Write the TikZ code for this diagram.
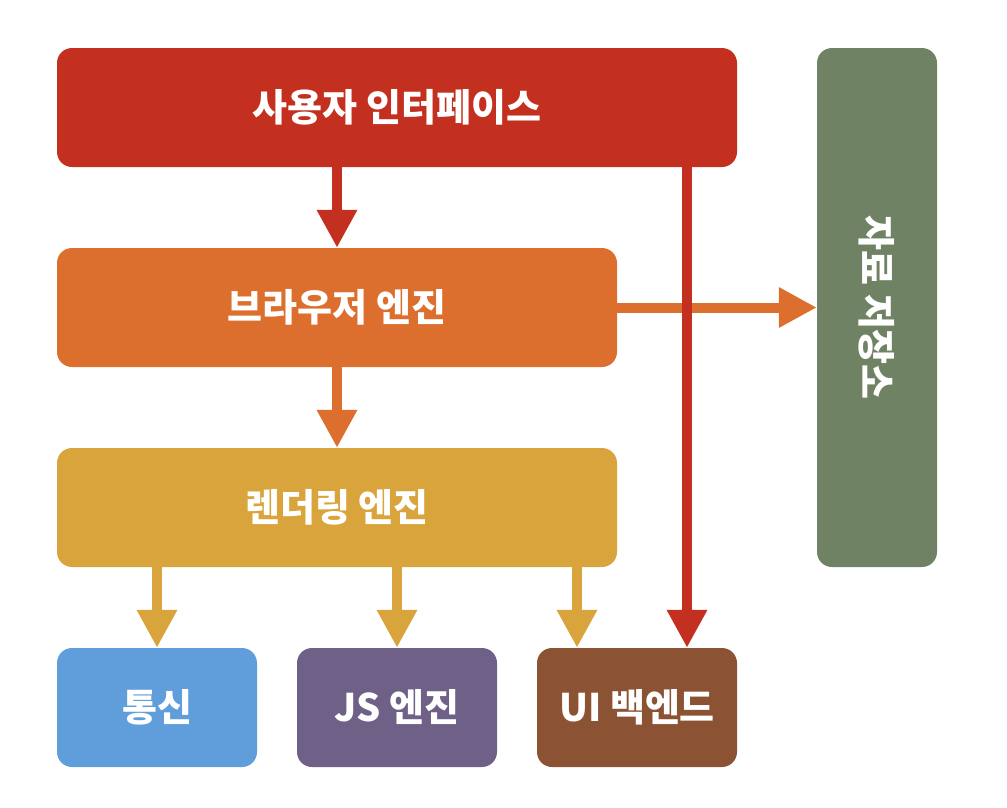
\documentclass[tikz,border=0pt]{standalone}
\usepackage{fontspec}
\newfontfamily\kr{Noto Sans CJK KR}
\usetikzlibrary{arrows.meta}
\definecolor{cred}{RGB}{196,48,31}
\definecolor{corange}{RGB}{220,111,46}
\definecolor{cyellow}{RGB}{217,164,59}
\definecolor{cgreen}{RGB}{112,130,100}
\definecolor{cblue}{RGB}{95,158,219}
\definecolor{cpurple}{RGB}{111,96,136}
\definecolor{cbrown}{RGB}{139,82,51}
\tikzset{
  boxfont/.style={font=\kr\bfseries\fontsize{38}{42}\selectfont},
  box/.style={rectangle, rounded corners=15pt, inner sep=0pt, text=white, boxfont},
  conn/.style={line width=10pt, -{Triangle[width=38pt,length=38pt]}},
}
\begin{document}
\begin{tikzpicture}[x=1pt,y=-1pt]
\useasboundingbox (0,0) rectangle (1007,807);
\node[box, fill=cred, minimum width=680pt, minimum height=119pt] (ui) at (397,107.5) {사용자 인터페이스};
\node[box, fill=corange, minimum width=560pt, minimum height=119pt] (be) at (337,307.5) {브라우저 엔진};
\node[box, fill=cyellow, minimum width=560pt, minimum height=119pt] (re) at (337,507.5) {렌더링 엔진};
\node[box, fill=cblue, minimum width=200pt, minimum height=119pt] (net) at (157,707.5) {통신};
\node[box, fill=cpurple, minimum width=200pt, minimum height=119pt] (js) at (397,707.5) {JS 엔진};
\node[box, fill=cbrown, minimum width=200pt, minimum height=119pt] (uib) at (637,707.5) {UI 백엔드};
\node[box, fill=cgreen, minimum width=120pt, minimum height=519pt] (store) at (877,307.5) {};
\node[text=white, boxfont, rotate=-90] (storet) at (store.center) {자료 저장소};
\coordinate (rx) at (687,0);
\coordinate (yx) at (577,0);
\draw[conn, cred] (be.north |- ui.south) -- (be.north);
\draw[conn, corange] (be.east) -- (be.east -| store.west);
\draw[conn, cred] (rx |- ui.south) -- (rx |- uib.north);
\draw[conn, corange] (be.south) -- (re.north);
\draw[conn, cyellow] (net.north |- re.south) -- (net.north);
\draw[conn, cyellow] (js.north |- re.south) -- (js.north);
\draw[conn, cyellow] (yx |- re.south) -- (yx |- uib.north);
\end{tikzpicture}
\end{document}
